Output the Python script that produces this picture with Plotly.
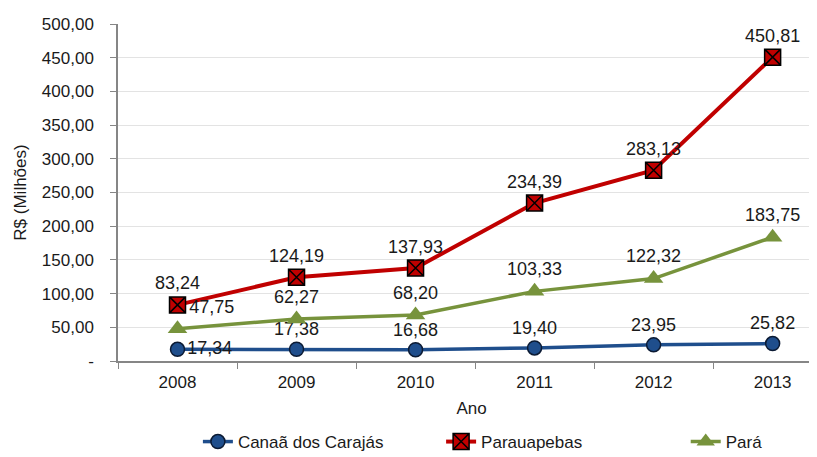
import plotly.graph_objects as go

# dados
anos = ["2008", "2009", "2010", "2011", "2012", "2013"]
canaa = [17.34, 17.38, 16.68, 19.40, 23.95, 25.82]
parauapebas = [83.24, 124.19, 137.93, 234.39, 283.13, 450.81]
para = [47.75, 62.27, 68.20, 103.33, 122.32, 183.75]

y_ticks = [0, 50, 100, 150, 200, 250, 300, 350, 400, 450, 500]
y_ticktext = ["-", "50,00", "100,00", "150,00", "200,00", "250,00",
              "300,00", "350,00", "400,00", "450,00", "500,00"]


def fmt(v):
    return f"{v:.2f}".replace(".", ",")


FONT = "Liberation Sans, Arial, sans-serif"
LBL = dict(size=18, color="#1a1a1a", family=FONT)

fig = go.Figure()

fig.add_trace(go.Scatter(
    x=anos, y=canaa, name="Canaã dos Carajás", mode="lines+markers+text",
    line=dict(color="#1F4E8C", width=3.5),
    marker=dict(symbol="circle", size=14, color="#1F4E8C",
                line=dict(color="#0B1A33", width=1.5)),
    text=[fmt(v) for v in canaa],
    textposition=["middle right", "top center", "top center",
                  "top center", "top center", "top center"],
    textfont=LBL, legend="legend",
))

fig.add_trace(go.Scatter(
    x=anos, y=parauapebas, name="Parauapebas", mode="lines+markers+text",
    line=dict(color="#C00000", width=4),
    marker=dict(symbol="square-x", size=16, color="#C00000",
                line=dict(color="#000000", width=1.5)),
    text=[fmt(v) for v in parauapebas],
    textposition="top center",
    textfont=LBL, legend="legend2",
))

fig.add_trace(go.Scatter(
    x=anos, y=para, name="Pará", mode="lines+markers+text",
    line=dict(color="#77933C", width=3.5),
    marker=dict(symbol="triangle-up", size=17, color="#77933C"),
    text=[fmt(v) for v in para],
    textposition=["top right", "top center", "top center",
                  "top center", "top center", "top center"],
    textfont=LBL, legend="legend3",
))

# a página tem margem de 8px no body, por isso as margens são compensadas
leg = dict(orientation="h", y=-0.187, yanchor="top", xanchor="left",
           font=dict(size=17), bgcolor="rgba(0,0,0,0)")

fig.update_layout(
    width=817, height=457,
    margin=dict(l=110, r=0, t=16, b=104, autoexpand=False),
    paper_bgcolor="white", plot_bgcolor="white",
    font=dict(family=FONT, size=17, color="#1a1a1a"),
    showlegend=True,
    legend=dict(leg, x=0.113),
    legend2=dict(leg, x=0.457),
    legend3=dict(leg, x=0.803),
    xaxis=dict(
        type="category", range=[-0.5, 5.44], tickson="boundaries",
        ticks="outside", ticklen=6, tickcolor="#868686",
        showline=True, linecolor="#868686", linewidth=1.5,
        showgrid=False, tickfont=dict(size=17), automargin=False,
        ticklabelstandoff=5,
        title=dict(text="Ano", font=dict(size=17), standoff=11),
    ),
    yaxis=dict(
        range=[0, 500], tickvals=y_ticks, ticktext=y_ticktext,
        ticks="outside", ticklen=6, tickcolor="#868686",
        showline=True, linecolor="#868686", linewidth=1.5,
        showgrid=True, gridcolor="#E3E3E3", gridwidth=1,
        zeroline=False, tickfont=dict(size=17), automargin=False,
        ticklabelstandoff=13,
        title=dict(text="R$ (Milhões)", font=dict(size=17), standoff=11),
    ),
)

fig.write_html("out.html")
